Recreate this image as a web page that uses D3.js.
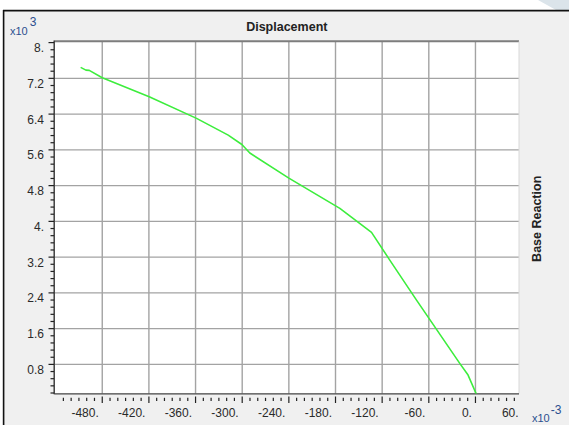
<!DOCTYPE html>
<html>
<head>
<meta charset="utf-8">
<script src="https://cdn.jsdelivr.net/npm/d3@7/dist/d3.min.js"></script>
<style>
  html, body { margin: 0; padding: 0; background: #ffffff; }
  svg { display: block; font-family: "Liberation Sans", Arial, sans-serif; }
</style>
</head>
<body>
<script>
// Pushover curve: base reaction (x10^3) against displacement (x10^-3)
const displacement = [-507.8, -501.0, -496.7, -480.0, -419.6, -358.7, -318.0, -300.4, -290.2, -240.0, -174.4, -133.7, -110.2, -75.8, -20.2, -9.5, 4.5];
const baseReaction = [7.446, 7.385, 7.379, 7.213, 6.788, 6.305, 5.930, 5.720, 5.530, 4.969, 4.291, 3.754, 3.134, 2.239, 0.822, 0.561, 0.0];

const xTickValues = [-480, -420, -360, -300, -240, -180, -120, -60, 0, 60];
const xTickLabels = ["-480.", "-420.", "-360.", "-300.", "-240.", "-180.", "-120.", "-60.", "0.", "60."];
const yTickValues = [0.8, 1.6, 2.4, 3.2, 4.0, 4.8, 5.6, 6.4, 7.2, 8.0];
const yTickLabels = ["0.8", "1.6", "2.4", "3.2", "4.", "4.8", "5.6", "6.4", "7.2", "8."];

const chartTitle = "Displacement";
const yTitle = "Base Reaction";

const W = 569, H = 425;
const svg = d3.select("body").append("svg").attr("width", W).attr("height", H);

// window frame
svg.append("rect").attr("x", 3).attr("y", 10).attr("width", W - 3).attr("height", H - 10).attr("fill", "#f0f0f0");
svg.append("polygon").attr("points", "538,0 569,0 569,10 556,10").attr("fill", "#dbe4ea");
svg.append("line").attr("x1", 3).attr("x2", W).attr("y1", 10.6).attr("y2", 10.6).attr("stroke", "#111").attr("stroke-width", 1.6);
svg.append("line").attr("x1", 3.6).attr("x2", 3.6).attr("y1", 10).attr("y2", H).attr("stroke", "#111").attr("stroke-width", 1.6);

const x = d3.scaleLinear().domain([-540, 56]).range([55.6, 519]);
const y = d3.scaleLinear().domain([0.16, 8]).range([393, 42.6]);
const [px0, px1] = x.range();
const [py1, py0] = y.range();

// plot area
svg.append("rect").attr("x", 54.5).attr("y", 41.5).attr("width", px1 - 54.5).attr("height", 393.5 - 41.5).attr("fill", "#ffffff");

const grid = svg.append("g").attr("stroke", "#a3a3a3").attr("stroke-width", 1.4);
grid.selectAll("line.v").data(xTickValues.filter(v => v > -540 && v < 56)).join("line")
  .attr("class", "v").attr("x1", d => x(d)).attr("x2", d => x(d)).attr("y1", 41.5).attr("y2", 393.5);
grid.selectAll("line.h").data(yTickValues.filter(v => v < 8)).join("line")
  .attr("class", "h").attr("x1", 54.5).attr("x2", px1).attr("y1", d => y(d)).attr("y2", d => y(d));

// plot borders
svg.append("line").attr("x1", 54.5).attr("x2", px1).attr("y1", 41.2).attr("y2", 41.2).attr("stroke", "#7d7d7d").attr("stroke-width", 2);
svg.append("line").attr("x1", px1).attr("x2", px1).attr("y1", 41.5).attr("y2", 393.5).attr("stroke", "#d8d8d8").attr("stroke-width", 1);
svg.append("line").attr("x1", 54.5).attr("x2", px1).attr("y1", 393.8).attr("y2", 393.8).attr("stroke", "#444").attr("stroke-width", 1.2);
svg.append("line").attr("x1", 54.2).attr("x2", 54.2).attr("y1", 40.5).attr("y2", 394.2).attr("stroke", "#333").attr("stroke-width", 1.4);

// curve
svg.append("clipPath").attr("id", "plotClip").append("rect")
  .attr("x", 54.5).attr("y", 41.5).attr("width", px1 - 54.5).attr("height", 393.5 - 41.5);
const pts = displacement.map((d, i) => [d, baseReaction[i]]);
svg.append("path").datum(pts)
  .attr("clip-path", "url(#plotClip)")
  .attr("fill", "none").attr("stroke", "#3ded3d").attr("stroke-width", 1.6)
  .attr("stroke-linejoin", "round")
  .attr("d", d3.line().x(d => x(d[0])).y(d => y(d[1])));

// y axis ticks
const yMinor = d3.range(1, 51).map(i => +(i * 0.16).toFixed(2));
svg.append("g").attr("stroke", "#222").attr("stroke-width", 1.2)
  .selectAll("line").data(yMinor).join("line")
  .attr("x1", d => (Math.abs(d / 0.8 - Math.round(d / 0.8)) < 1e-6) ? 48.5 : 50.5)
  .attr("x2", 54)
  .attr("y1", d => y(d)).attr("y2", d => y(d));
svg.append("g").selectAll("text").data(yTickValues).join("text")
  .attr("x", 44).attr("y", d => y(d) + 9.5)
  .attr("text-anchor", "end").attr("font-size", 12).attr("fill", "#2a2a2a")
  .text((d, i) => yTickLabels[i]);

// x axis ticks
const xMinor = d3.range(-530, 56, 10);
svg.append("g").attr("stroke", "#222").attr("stroke-width", 1.2)
  .selectAll("line").data(xMinor).join("line")
  .attr("x1", d => x(d)).attr("x2", d => x(d))
  .attr("y1", d => (d % 60 === 0) ? 396.5 : 397.8)
  .attr("y2", d => (d % 60 === 0) ? 403 : 401);
svg.append("g").selectAll("text").data(xTickValues).join("text")
  .attr("x", d => x(d) - 3.5).attr("y", 416.5)
  .attr("text-anchor", "end").attr("font-size", 12).attr("fill", "#2a2a2a")
  .text((d, i) => xTickLabels[i]);

// titles
svg.append("text").attr("x", (px0 + px1) / 2 - 0.5).attr("y", 30.5)
  .attr("text-anchor", "middle").attr("font-size", 12.5).attr("font-weight", "bold").attr("fill", "#222")
  .text(chartTitle);
svg.append("text").attr("transform", `translate(540.5,${(py0 + py1) / 2 + 1}) rotate(-90)`)
  .attr("text-anchor", "middle").attr("font-size", 12.5).attr("font-weight", "bold").attr("fill", "#222")
  .text(yTitle);

// axis multipliers
const mulY = svg.append("text").attr("x", 10).attr("y", 34.5).attr("font-size", 11).attr("fill", "#2b4f8f");
mulY.append("tspan").text("x10");
mulY.append("tspan").attr("dx", 2).attr("dy", -9).attr("font-size", 12).text("3");
const mulX = svg.append("text").attr("x", 532).attr("y", 421.5).attr("font-size", 11).attr("fill", "#2b4f8f");
mulX.append("tspan").text("x10");
mulX.append("tspan").attr("dx", 1).attr("dy", -8).attr("font-size", 12).text("-3");
</script>
</body>
</html>
